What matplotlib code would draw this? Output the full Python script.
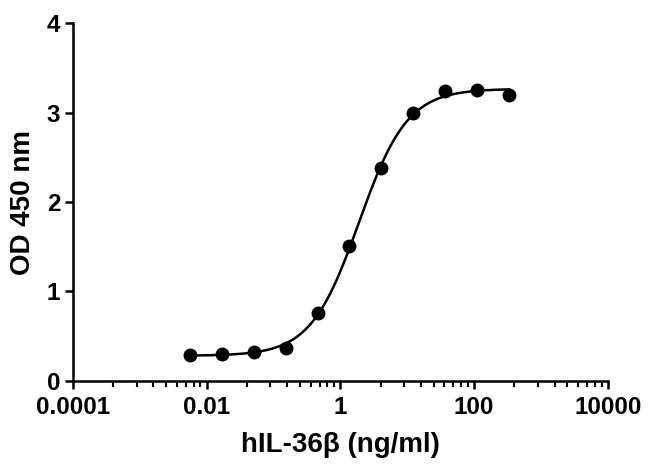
import numpy as np
import matplotlib
matplotlib.use("Agg")
import matplotlib.pyplot as plt
from matplotlib.ticker import FixedLocator, NullFormatter

# Data
conc = [0.00564, 0.0169, 0.0508, 0.152, 0.457, 1.37, 4.12, 12.3, 37.0, 111.0, 333.0]
od = [0.29, 0.30, 0.32, 0.37, 0.76, 1.51, 2.38, 2.99, 3.24, 3.25, 3.20]
xticks = [1e-4, 1e-2, 1, 1e2, 1e4]
xtick_labels = ["0.0001", "0.01", "1", "100", "10000"]
yticks = [0, 1, 2, 3, 4]

# Four-parameter logistic fit (least squares: grid search over EC50/Hill, linear for bottom/top)
x = np.array(conc)
y = np.array(od)

def fpl(xx, bottom, top, logec, hill):
    return bottom + (top - bottom) / (1 + 10 ** ((logec - np.log10(xx)) * hill))

best = None
for logec in np.linspace(0.0, 0.5, 51):
    for hill in np.linspace(0.8, 1.6, 41):
        s = 1 / (1 + 10 ** ((logec - np.log10(x)) * hill))
        A = np.vstack([1 - s, s]).T
        coef, *_ = np.linalg.lstsq(A, y, rcond=None)
        r = np.sum((A @ coef - y) ** 2)
        if best is None or r < best[0]:
            best = (r, coef[0], coef[1], logec, hill)
_, b0, t0, lec, h0 = best

plt.rcParams['font.family'] = ['Liberation Sans', 'DejaVu Sans']
fig = plt.figure(figsize=(6.5, 4.72), dpi=100)
ax = fig.add_axes([0.112, 0.193, 0.823, 0.758])

xs = np.logspace(np.log10(min(conc)), np.log10(max(conc)), 400)
ax.plot(xs, fpl(xs, b0, t0, lec, h0), color='black', lw=1.8, zorder=2)
ax.plot(conc, od, 'o', color='black', ms=9, zorder=3)

ax.set_xscale('log')
ax.set_xlim(1e-4, 1e4)
ax.set_ylim(0, 4)
ax.xaxis.set_major_locator(FixedLocator(xticks))
ax.set_xticklabels(xtick_labels)
# Prism-style minor ticks: log spacing of one decade stretched over each 2-decade interval
minor = [m * k ** 2 for m in xticks[:-1] for k in range(2, 10)]
ax.xaxis.set_minor_locator(FixedLocator(minor))
ax.xaxis.set_minor_formatter(NullFormatter())
ax.set_yticks(yticks)

for s in ['top', 'right']:
    ax.spines[s].set_visible(False)
for s in ['left', 'bottom']:
    ax.spines[s].set_linewidth(1.8)

ax.tick_params(axis='both', which='major', direction='out', length=6, width=1.8,
               labelsize=17.5, pad=5)
ax.tick_params(axis='y', which='major', pad=3)
ax.tick_params(axis='x', which='minor', direction='out', length=4, width=1.5)
for lbl in ax.get_xticklabels() + ax.get_yticklabels():
    lbl.set_fontweight('bold')

ax.set_xlabel("hIL-36β (ng/ml)", fontsize=20, fontweight='bold', labelpad=9)
ax.set_ylabel("OD 450 nm", fontsize=20, fontweight='bold', labelpad=8)

fig.savefig("out.png", dpi=100, facecolor='white')
